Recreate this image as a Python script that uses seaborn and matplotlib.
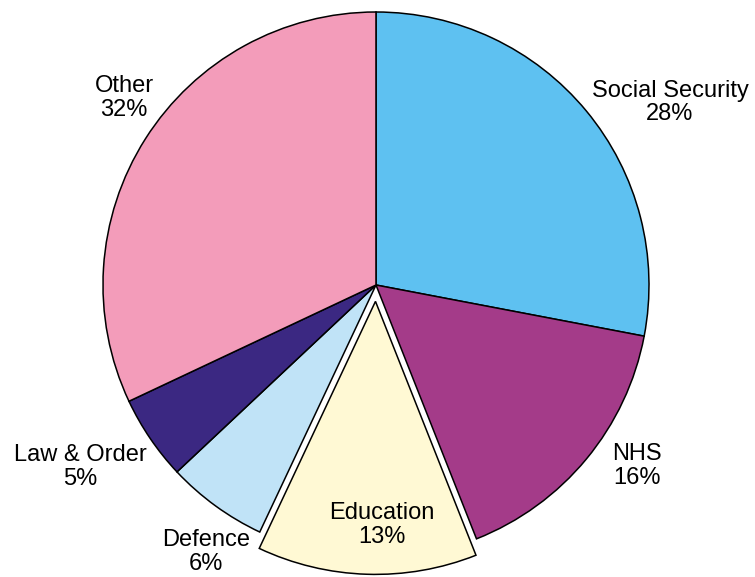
import matplotlib
matplotlib.use("Agg")
import matplotlib.pyplot as plt
import seaborn as sns

categories = ["Social Security", "NHS", "Education", "Defence", "Law & Order", "Other"]
values = [28, 16, 13, 6, 5, 32]
colors = ["#5EC1F1", "#A43B89", "#FFF9D4", "#C0E3F7", "#3B2882", "#F39CBA"]
explode = [0, 0, 0.06, 0, 0, 0]

# label centres (in units of pie radius, relative to pie centre)
label_pos = [(1.077, 0.668), (0.956, -0.662), (0.022, -0.878),
             (-0.623, -0.977), (-1.084, -0.666), (-0.923, 0.686)]

sns.set_theme(style="white")
plt.rcParams['font.family'] = ['Liberation Sans', 'DejaVu Sans']

fig = plt.figure(figsize=(7.55, 5.77), dpi=100)
ax = fig.add_axes([0.1364, 0.0329, 0.7232, 0.9463])
ax.pie(values, colors=colors, explode=explode, startangle=90, counterclock=False,
       radius=1.0, wedgeprops=dict(edgecolor="black", linewidth=1.1))
for cat, val, (x, y) in zip(categories, values, label_pos):
    ax.text(x, y, f"{cat}\n{val}%", ha="center", va="center", fontsize=17,
            color="black", linespacing=1.1)
ax.set_xlim(-1, 1)
ax.set_ylim(-1, 1)
ax.set_aspect("equal")
ax.axis("off")
fig.savefig("out.png", dpi=100)
